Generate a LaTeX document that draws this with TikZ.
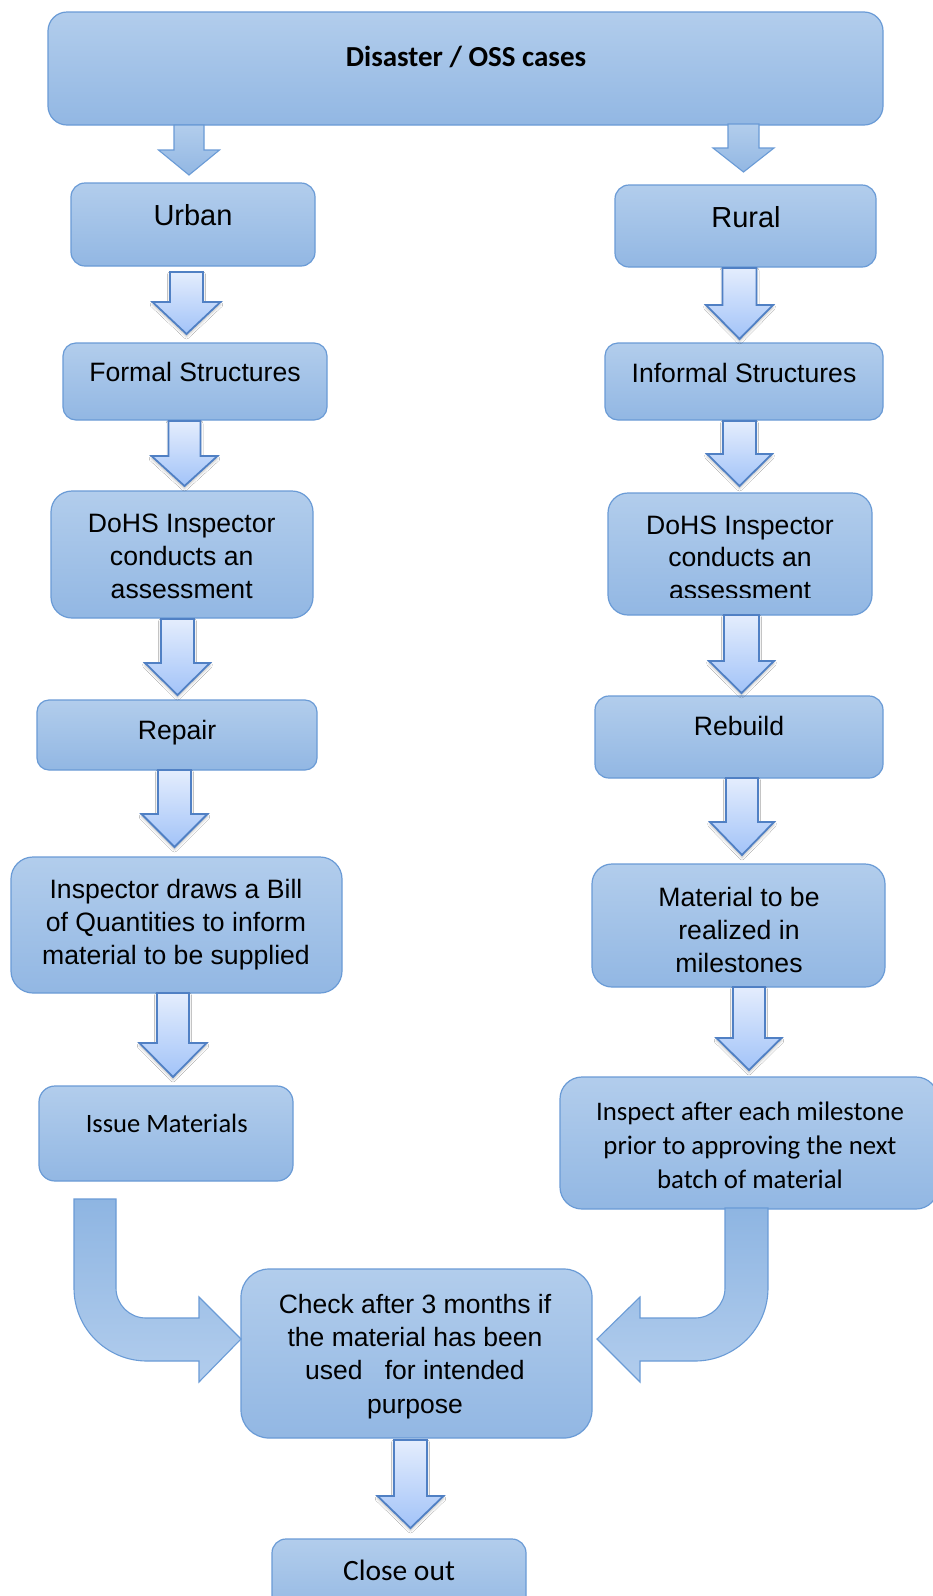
\documentclass[tikz,border=0pt]{standalone}
\usepackage{fontspec}
\setmainfont{Liberation Sans}
\newfontfamily\calib{Carlito}
\usetikzlibrary{shadows.blur}
\definecolor{boxtop}{RGB}{178,205,236}
\definecolor{boxbot}{RGB}{146,183,227}
\definecolor{boxline}{RGB}{106,155,214}
\definecolor{benttop}{RGB}{142,181,226}
\definecolor{bentbot}{RGB}{178,205,237}
\definecolor{arrtop}{RGB}{228,237,253}
\definecolor{arrbot}{RGB}{162,195,248}
\definecolor{arrline}{RGB}{80,128,196}
\newcommand\lines[1]{\vtop{\halign{\hfil##\hfil\cr#1\crcr}}}
\newcommand\bx[6]{\node[box, rounded corners=#6pt, minimum width={(#4-#2)*1pt}, minimum height={(#5-#3)*1pt}] (#1) at (#2,#3) {};}
% [style]{xc}{ytop}{yhead}{ytip}{shaft half}{head half}
\newcommand\darrow[7][light]{\draw[#1] (#2-#6,#3) -- (#2+#6,#3) -- (#2+#6,#4) -- (#2+#7,#4) -- (#2,#5) -- (#2-#7,#4) -- (#2-#6,#4) -- cycle;}
\tikzset{
  box/.style={draw=boxline, line width=1.2pt, top color=boxtop, bottom color=boxbot, anchor=north west, inner sep=0pt, outer sep=0pt},
  txt/.style={anchor=base, inner sep=0pt, text=black, font=\fontsize{26.6}{33}\selectfont},
  light/.style={draw=arrline, line width=1.8pt, line join=miter, top color=arrtop, bottom color=arrbot,
    blur shadow={shadow xshift=0pt, shadow yshift=-2.5pt, shadow blur radius=2.5pt, shadow opacity=25}},
  med/.style={draw=boxline, line width=1.1pt, top color=boxtop, bottom color=boxbot},
  bent/.style={draw=boxline, line width=1.1pt, top color=benttop, bottom color=bentbot},
}
\begin{document}
\begin{tikzpicture}[x=1pt,y=-1pt]
\clip (0,0) rectangle (933,1596);
\fill[white] (0,0) rectangle (933,1596);

% boxes
\bx{top}{48}{12}{883}{125}{19}
\bx{urban}{71}{183}{315}{266}{14}
\bx{rural}{615}{185}{876}{267}{14}
\bx{formal}{63}{343}{327}{420}{13}
\bx{informal}{605}{343}{883}{420}{13}
\bx{dohsL}{51}{491}{313}{618}{21}
\bx{dohsR}{608}{493}{872}{615}{20}
\bx{repair}{37}{700}{317}{770}{12}
\bx{rebuild}{595}{696}{883}{778}{14}
\bx{bill}{11}{857}{342}{993}{22}
\bx{material}{592}{864}{885}{987}{20}
\bx{issue}{39}{1086}{293}{1181}{16}
\bx{inspect}{560}{1077}{938}{1209}{22}
\bx{check}{241}{1269}{592}{1438}{28}
\bx{close}{272}{1539}{526}{1620}{14}

% straight block arrows
\darrow[med]{189}{125}{150}{175}{15}{30.5}
\darrow[med]{743.5}{124}{148}{172}{15.5}{30.5}
\darrow{186.5}{272}{302}{334}{16.5}{34}
\darrow{184.5}{421}{456}{486}{16}{33}
\darrow{177.5}{619}{663}{695}{16.5}{32.5}
\darrow{174.5}{770}{814}{847}{16.5}{33}
\darrow{173}{993}{1043}{1077}{16}{33.5}
\darrow{739.5}{268}{305}{339}{17}{33.5}
\darrow{739.5}{421}{454}{486}{16.5}{32.5}
\darrow{741.5}{615}{661}{693}{17.5}{32.5}
\darrow{742}{778}{822}{855}{16}{32}
\darrow{749}{987}{1038}{1070}{16}{32.5}
\darrow{410.5}{1440}{1496}{1528}{16.5}{33}

% bent arrows into the check box
\draw[bent] (74,1199) -- (116,1199) -- (116,1288) .. controls (116,1304.6) and (129.4,1318) .. (146,1318) -- (199,1318) -- (199,1297) -- (241,1339) -- (199,1382) -- (199,1361) -- (147,1361) .. controls (106.7,1361) and (74,1328.3) .. (74,1288) -- cycle;
\draw[bent] (768,1208) -- (725,1208) -- (725,1288) .. controls (725,1304.6) and (711.6,1318) .. (695,1318) -- (640,1318) -- (640,1297) -- (597,1339) -- (640,1382) -- (640,1361) -- (695,1361) .. controls (735.3,1361) and (768,1328.3) .. (768,1288) -- cycle;

% texts
\node[txt, font=\calib\bfseries\fontsize{29}{34}\selectfont] (t-top) at (466,66.7) {Disaster / OSS cases};
\node[txt, font=\fontsize{29}{34}\selectfont] (t-urban) at (193,225.7) {Urban};
\node[txt, font=\fontsize{29}{34}\selectfont] (t-rural) at (746,227.3) {Rural};
\node[txt] (t-formal) at (195,381.7) {Formal Structures};
\node[txt] (t-informal) at (744,382) {Informal Structures};
\node[txt] (t-dohsL) at (181.7,532) {\lines{DoHS Inspector\cr conducts an\cr assessment}};
\begin{scope}
\clip (600,480) rectangle (880,597);
\node[txt, font=\fontsize{26.6}{32.5}\selectfont] (t-dohsR) at (740,534.3) {\lines{DoHS Inspector\cr conducts an\cr assessment}};
\end{scope}
\node[txt] (t-repair) at (177,739.3) {Repair};
\node[txt] (t-rebuild) at (739,735) {Rebuild};
\node[txt] (t-bill) at (176,898.3) {\lines{Inspector draws a Bill\cr of Quantities to inform\cr material to be supplied}};
\node[txt] (t-material) at (739,906) {\lines{Material to be\cr realized in\cr milestones}};
\node[txt, font=\calib\fontsize{26.5}{32}\selectfont] (t-issue) at (166.7,1132.3) {Issue Materials};
\node[txt, font=\calib\fontsize{26.8}{33.8}\selectfont] (t-inspect) at (750,1120.7) {\lines{Inspect after each milestone\cr prior to approving the next\cr batch of material}};
\node[txt, font=\fontsize{26.5}{33.3}\selectfont] (t-check) at (415,1313.3) {\lines{Check after 3 months if\cr the material has been\cr used\ \ \ for intended\cr purpose}};
\node[txt, font=\calib\fontsize{29.5}{34}\selectfont] (t-close) at (399,1580) {Close out};
\end{tikzpicture}
\end{document}
